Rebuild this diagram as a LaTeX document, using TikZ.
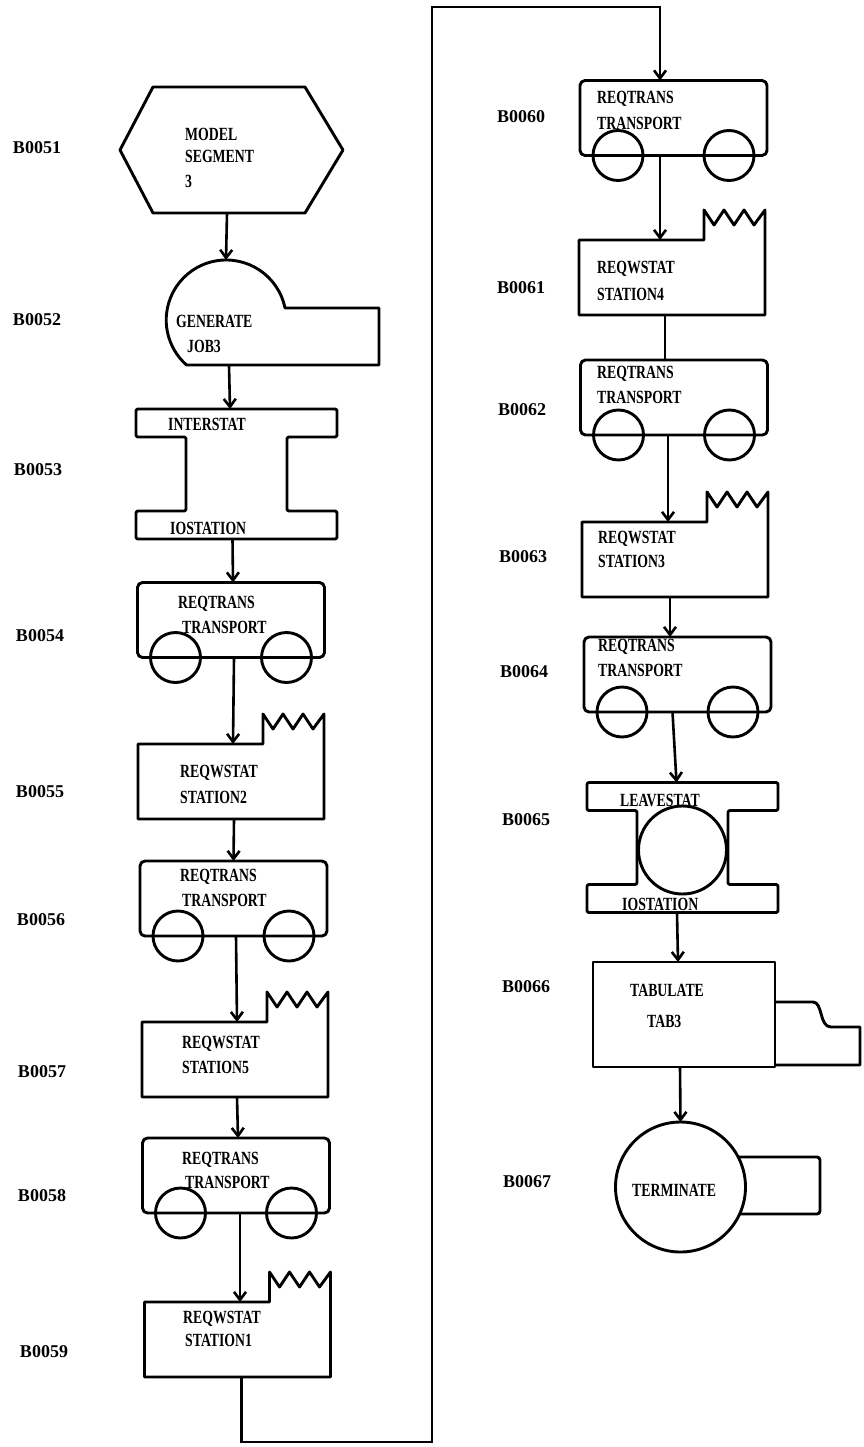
\documentclass[tikz,border=0pt]{standalone}
\usepackage{fontspec}
\setmainfont{Liberation Serif}
\newfontfamily\boxfont[FakeStretch=0.74]{Liberation Serif}
\usetikzlibrary{arrows.meta}
\tikzset{
  shp/.style={line width=2.9pt, line join=round},
  arr/.style={line width=2.6pt, -{Straight Barb[length=8pt,width=12pt]}},
  txt/.style={anchor=base west, inner sep=0pt, font=\fontsize{18.6}{20}\selectfont\boxfont\bfseries},
  lbl/.style={inner sep=0pt, font=\fontsize{18}{20}\selectfont\bfseries},
  bound/.style={inner sep=0pt, outer sep=0pt, draw=none},
  cartbody/.style={shp, draw, rounded corners=5pt, minimum width=187pt, minimum height=75pt, inner sep=0pt, outer sep=0pt},
  pics/cart/.style={code={
     \node[cartbody] (-b) at (0,0) {};
     \draw[shp] ([xshift=38pt]-b.south west) circle[radius=25pt];
     \draw[shp] ([xshift=-38pt]-b.south east) circle[radius=25pt];
  }},
  pics/reqw/.style={code={
     \node[bound, minimum width=186pt, minimum height=75pt] (-b) at (0,0) {};
     \draw[shp] (-b.north west) -- ++(125,0) -- ++(0,-30) -- ++(10,15) -- ++(10,-15)
        -- ++(10,15) -- ++(10,-15) -- ++(10,15) -- ++(11,-15) -- (-b.south east)
        -- (-b.south west) -- cycle;
  }},
  pics/istat/.style={code={
     \node[bound, minimum width=#1, minimum height=130pt] (-b) at (0,0) {};
     \draw[shp, rounded corners=2pt] (-b.north west) -- (-b.north east) -- ++(0,28) -- ++(-50,0)
        -- ++(0,74) -- ++(50,0) -- (-b.south east) -- (-b.south west) -- ++(0,-28)
        -- ++(50,0) -- ++(0,-74) -- ++(-50,0) -- cycle;
  }},
}
\begin{document}
\begin{tikzpicture}[x=1pt, y=-1pt]
\useasboundingbox (0,0) rectangle (863,1447);

% ---------- left column ----------
\node[bound, minimum width=223pt, minimum height=126pt] (b51) at (231.5,150) {};
\draw[shp] ([xshift=33pt]b51.north west) -- ([xshift=-38pt]b51.north east) -- (b51.east)
   -- ([xshift=-38pt]b51.south east) -- ([xshift=33pt]b51.south west) -- (b51.west) -- cycle;
\node[txt] (t51a) at (185,141) {MODEL};
\node[txt] (t51b) at (185,163) {SEGMENT};
\node[txt] (t51c) at (185,188) {3};

\node[bound, circle, minimum size=120pt] (b52) at (226,320) {};
\draw[shp] (285,308) arc[start angle=11.54, end angle=228.6, radius=60pt] -- (379,365) -- (379,308) -- cycle;
\coordinate (b52s) at (229,365);
\node[txt] (t52a) at (176,327) {GENERATE};
\node[txt] (t52b) at (187,352) {JOB3};

\pic (b53) at (236.5,474) {istat=201};
\node[txt] (t53a) at (168,430) {INTERSTAT};
\node[txt] (t53b) at (170,534) {IOSTATION};

\pic (b54) at (231,620) {cart};
\node[txt] (t54a) at (178,608) {REQTRANS};
\node[txt] (t54b) at (182,633) {TRANSPORT};

\pic (b55) at (231,781.5) {reqw};
\node[txt] (t55a) at (180,777) {REQWSTAT};
\node[txt] (t55b) at (180,803) {STATION2};

\pic (b56) at (233.5,898.5) {cart};
\node[txt] (t56a) at (180,881) {REQTRANS};
\node[txt] (t56b) at (182,906) {TRANSPORT};

\pic (b57) at (235,1059.5) {reqw};
\node[txt] (t57a) at (182,1048) {REQWSTAT};
\node[txt] (t57b) at (182,1073) {STATION5};

\pic (b58) at (236,1175.5) {cart};
\node[txt] (t58a) at (182,1164) {REQTRANS};
\node[txt] (t58b) at (185,1188) {TRANSPORT};

\pic (b59) at (237.5,1339.5) {reqw};
\node[txt] (t59a) at (183,1323) {REQWSTAT};
\node[txt] (t59b) at (185,1346) {STATION1};

% ---------- right column ----------
\pic (b60) at (673.5,118) {cart};
\node[txt] (t60a) at (597,104) {REQTRANS};
\node[txt] (t60b) at (597,130) {TRANSPORT};

\pic (b61) at (672,277.5) {reqw};
\node[txt] (t61a) at (597,273) {REQWSTAT};
\node[txt] (t61b) at (597,300) {STATION4};

\pic (b62) at (674,397.5) {cart};
\node[txt] (t62a) at (597,378) {REQTRANS};
\node[txt] (t62b) at (597,403) {TRANSPORT};

\pic (b63) at (675,559.5) {reqw};
\node[txt] (t63a) at (598,543) {REQWSTAT};
\node[txt] (t63b) at (598,567) {STATION3};

\pic (b64) at (677.5,674.5) {cart};
\node[txt] (t64a) at (598,651) {REQTRANS};
\node[txt] (t64b) at (598,676) {TRANSPORT};

\pic (b65) at (682.5,847.5) {istat=191};
\draw[shp] ([yshift=-2.5pt]b65-b.center) circle[radius=44pt];
\node[txt] (t65a) at (620,806) {LEAVESTAT};
\node[txt] (t65b) at (622,910) {IOSTATION};

\node[shp, draw, minimum width=182pt, minimum height=105pt, inner sep=0pt, outer sep=0pt] (b66) at (684,1014.5) {};
\draw[shp] (775,1002) -- (813,1002) .. controls (823,1002) and (819,1027) .. (831,1027)
   -- (860,1027) -- (860,1065) -- (775,1065);
\node[txt] (t66a) at (630,996) {TABULATE};
\node[txt] (t66b) at (647,1027) {TAB3};

\node[shp, draw, circle, minimum size=130pt, inner sep=0pt, outer sep=0pt] (b67) at (680.5,1187) {};
\draw[shp, rounded corners=3pt] (738,1157) -- (820,1157) -- (820,1214) -- (740,1214);
\node[txt] (t67) at (632,1196) {TERMINATE};

% ---------- block labels ----------
\node[lbl] (l51) at (37,148) {B0051};
\node[lbl] (l52) at (37,320) {B0052};
\node[lbl] (l53) at (38,470) {B0053};
\node[lbl] (l54) at (40,636) {B0054};
\node[lbl] (l55) at (40,792) {B0055};
\node[lbl] (l56) at (41,920) {B0056};
\node[lbl] (l57) at (42,1072) {B0057};
\node[lbl] (l58) at (42,1196) {B0058};
\node[lbl] (l59) at (44,1352) {B0059};
\node[lbl] (l60) at (521,117) {B0060};
\node[lbl] (l61) at (521,288) {B0061};
\node[lbl] (l62) at (522,410) {B0062};
\node[lbl] (l63) at (523,557) {B0063};
\node[lbl] (l64) at (524,672) {B0064};
\node[lbl] (l65) at (526,820) {B0065};
\node[lbl] (l66) at (526,987) {B0066};
\node[lbl] (l67) at (527,1182) {B0067};

% ---------- connectors ----------
\draw[arr] ([xshift=-4.5pt]b51.south) -- (b52.north);
\draw[arr] (b52s) -- ([xshift=-6.5pt]b53-b.north);
\draw[arr] ([xshift=-4pt]b53-b.south) -- ([xshift=2pt]b54-b.north);
\draw[arr] ([xshift=3pt]b54-b.south) -- ([xshift=2pt]b55-b.north);
\draw[arr] ([xshift=3pt]b55-b.south) -- (b56-b.north);
\draw[arr] ([xshift=2.5pt]b56-b.south) -- ([xshift=2pt]b57-b.north);
\draw[arr] ([xshift=2pt]b57-b.south) -- ([xshift=2pt]b58-b.north);
\draw[arr] ([xshift=4pt]b58-b.south) -- ([xshift=2.5pt]b59-b.north);
\coordinate (turnA) at (432,1442);
\coordinate (turnB) at (432,7);
\draw[arr] ([xshift=4pt]b59-b.south) |- (turnA) -- (turnB) -| ([xshift=-13.5pt]b60-b.north);
\draw[arr] ([xshift=-13.5pt]b60-b.south) -- ([xshift=-12pt]b61-b.north);
\draw[line width=2.6pt] ([xshift=-7pt]b61-b.south) -- ([xshift=-9pt]b62-b.north);
\draw[arr] ([xshift=-6pt]b62-b.south) -- ([xshift=-7pt]b63-b.north);
\draw[arr] ([xshift=-5pt]b63-b.south) -- ([xshift=-7.5pt]b64-b.north);
\draw[arr] ([xshift=-5pt]b64-b.south) -- ([xshift=-6pt]b65-b.north);
\draw[arr] ([xshift=-5.5pt]b65-b.south) -- ([xshift=-6pt]b66.north);
\draw[arr] ([xshift=-4pt]b66.south) -- (b67.north);
\end{tikzpicture}
\end{document}
